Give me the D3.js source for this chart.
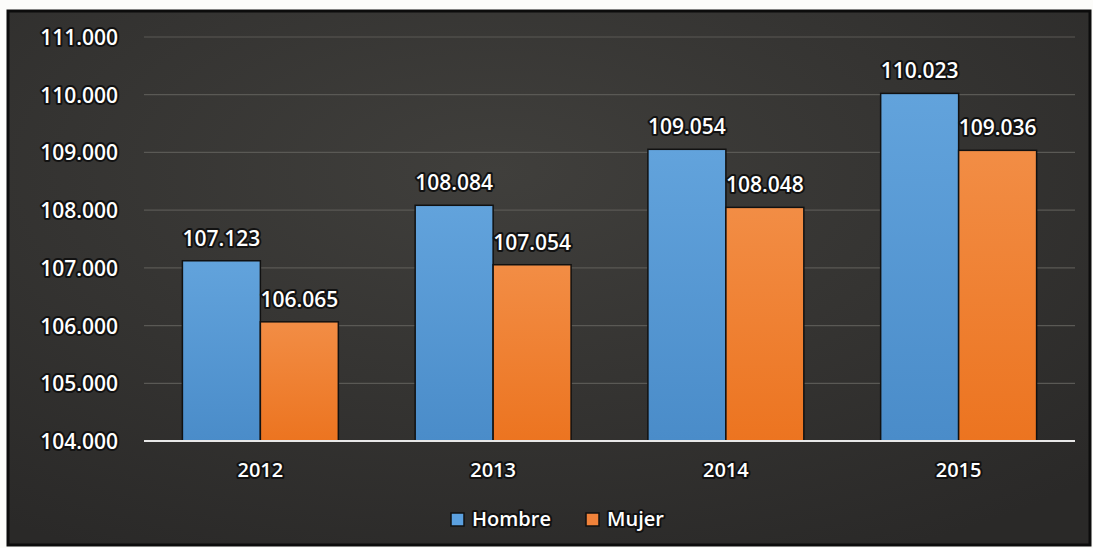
<!DOCTYPE html>
<html>
<head>
<meta charset="utf-8">
<script src="https://cdn.jsdelivr.net/npm/d3@7"></script>
<style>
  body { margin: 0; background: #fcfcfa; }
  text { font-family: "Open Sans", sans-serif; font-weight: 600; fill: #fff; paint-order: stroke; stroke: #121212; stroke-width: 4px; stroke-linejoin: round; }
</style>
</head>
<body>
<svg id="chart" width="1093" height="548"></svg>
<script>
var years = ['2012', '2013', '2014', '2015'];
var series = ['Hombre', 'Mujer'];
var hombre = [107.123, 108.084, 109.054, 110.023];
var mujer = [106.065, 107.054, 108.048, 109.036];
var yTicks = [104, 105, 106, 107, 108, 109, 110, 111];

var svg = d3.select('#chart');
var margin = {left: 144, right: 18, top: 37, bottom: 107};
var width = 1093, height = 548;

var defs = svg.append('defs');
var bg = defs.append('radialGradient').attr('id', 'bg').attr('cx', '45%').attr('cy', '30%').attr('r', '80%');
bg.append('stop').attr('offset', '0%').attr('stop-color', '#403f3c');
bg.append('stop').attr('offset', '100%').attr('stop-color', '#2a2928');

var gBlue = defs.append('linearGradient').attr('id', 'gBlue').attr('x1', 0).attr('y1', 0).attr('x2', 0).attr('y2', 1);
gBlue.append('stop').attr('offset', '0%').attr('stop-color', '#62a3dc');
gBlue.append('stop').attr('offset', '100%').attr('stop-color', '#4a8cc9');
var gOrange = defs.append('linearGradient').attr('id', 'gOrange').attr('x1', 0).attr('y1', 0).attr('x2', 0).attr('y2', 1);
gOrange.append('stop').attr('offset', '0%').attr('stop-color', '#f28d45');
gOrange.append('stop').attr('offset', '100%').attr('stop-color', '#ec7420');
var fills = {Hombre: 'url(#gBlue)', Mujer: 'url(#gOrange)'};
var swatch = {Hombre: '#5ba0df', Mujer: '#f0823a'};

// background panel
svg.append('rect')
    .attr('x', 8).attr('y', 11)
    .attr('width', 1082).attr('height', 534)
    .attr('fill', 'url(#bg)')
    .attr('stroke', '#0c0c0c').attr('stroke-width', 3);

var x0 = d3.scaleBand().domain(years).range([margin.left, width - margin.right]).paddingInner(0.33).paddingOuter(0.165);
var x1 = d3.scaleBand().domain(series).range([0, x0.bandwidth()]);
var y = d3.scaleLinear().domain([104, 111]).range([height - margin.bottom, margin.top]);

// gridlines
svg.append('g').selectAll('line')
    .data(yTicks.slice(1))
    .enter()
    .append('line')
    .attr('x1', margin.left).attr('x2', width - margin.right)
    .attr('y1', (d) => y(d)).attr('y2', (d) => y(d))
    .attr('stroke', '#5a5955').attr('stroke-width', 1.2);

// y tick labels
svg.append('g').selectAll('text')
    .data(yTicks)
    .enter()
    .append('text')
    .attr('x', 118)
    .attr('y', (d) => y(d) + 8)
    .attr('text-anchor', 'end')
    .style('font-size', '21px')
    .text((d) => d3.format('.3f')(d));

var rows = years.map((yr, i) => ({year: yr, Hombre: hombre[i], Mujer: mujer[i]}));

var groups = svg.append('g').selectAll('g')
    .data(rows)
    .enter()
    .append('g')
    .attr('transform', (d) => `translate(${x0(d.year)},0)`);

groups.selectAll('rect')
    .data((d) => series.map((s) => ({key: s, value: d[s]})))
    .enter()
    .append('rect')
    .attr('x', (d) => x1(d.key))
    .attr('y', (d) => y(d.value))
    .attr('width', x1.bandwidth())
    .attr('height', (d) => y(104) - y(d.value))
    .attr('fill', (d) => fills[d.key])
    .attr('stroke', '#111').attr('stroke-width', 1.5);

groups.selectAll('text.val')
    .data((d) => series.map((s) => ({key: s, value: d[s]})))
    .enter()
    .append('text')
    .attr('class', 'val')
    .attr('x', (d) => x1(d.key) + x1.bandwidth() / 2)
    .attr('y', (d) => y(d.value) - 15)
    .attr('text-anchor', 'middle')
    .style('font-size', '21px')
    .text((d) => d3.format('.3f')(d.value));

// baseline
svg.append('line')
    .attr('x1', margin.left).attr('x2', width - margin.right)
    .attr('y1', y(104)).attr('y2', y(104))
    .attr('stroke', '#e8e8e8').attr('stroke-width', 2);

// x labels
svg.append('g').selectAll('text')
    .data(years)
    .enter()
    .append('text')
    .attr('x', (d) => x0(d) + x0.bandwidth() / 2)
    .attr('y', 477)
    .attr('text-anchor', 'middle')
    .style('font-size', '20px')
    .text((d) => d);

// legend
var legend = svg.append('g').attr('transform', 'translate(451,526)');
var lx = [0, 135];
series.forEach((s, i) => {
    legend.append('rect')
        .attr('x', lx[i]).attr('y', -13)
        .attr('width', 13).attr('height', 13)
        .attr('fill', swatch[s]).attr('stroke', '#111').attr('stroke-width', 1.5);
    legend.append('text')
        .attr('x', lx[i] + 21).attr('y', 0)
        .style('font-size', '20px')
        .text(s);
});
</script>
</body>
</html>
